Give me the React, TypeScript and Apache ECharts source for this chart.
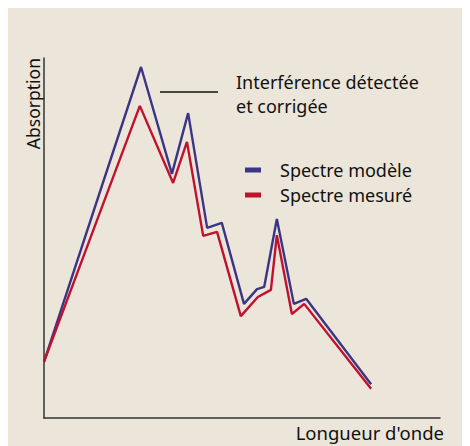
import React, { useEffect, useRef } from "react";
import * as echarts from "echarts";

const modelX = [0, 24.5, 32.3, 36.4, 41.2, 44.9, 50.5, 53.8, 55.6, 58.8, 63.1, 66.2, 82.6];
const modelY = [15.6, 97.5, 67.8, 84.7, 52.8, 54.2, 31.7, 35.8, 36.4, 55.3, 31.7, 33.1, 9.4];
const measX = [0, 24.2, 32.6, 36.1, 40.2, 43.7, 49.7, 54.0, 57.3, 58.8, 62.6, 65.7, 82.6];
const measY = [15.6, 86.7, 65.3, 76.7, 50.6, 51.7, 28.3, 33.6, 35.6, 50.8, 28.9, 31.7, 8.1];

const seriesNames = ["Spectre modèle", "Spectre mesuré"];
const xName = "Longueur d'onde";
const yName = "Absorption";
const annotation = "Interférence détectée\net corrigée";

const FONT = "Noto Sans";

export default function App() {
  const ref = useRef<HTMLDivElement>(null);
  useEffect(() => {
    if (!ref.current) return;
    const chart = echarts.init(ref.current, undefined, { renderer: "svg" });
    const zip = (xs: number[], ys: number[]) => xs.map((x, i) => [x, ys[i]]);
    chart.setOption({
      animation: false,
      backgroundColor: "#ebe5da",
      textStyle: { fontFamily: FONT },
      grid: { left: 36, right: 30, top: 50, bottom: 28 },
      xAxis: {
        type: "value",
        min: 0,
        max: 100,
        axisLine: { show: true, lineStyle: { color: "#333", width: 1.5 } },
        axisTick: { show: false },
        axisLabel: { show: false },
        splitLine: { show: false },
      },
      yAxis: {
        type: "value",
        min: 0,
        max: 100,
        axisLine: { show: true, lineStyle: { color: "#333", width: 1.5 } },
        axisTick: { show: false },
        axisLabel: { show: false },
        splitLine: { show: false },
      },
      legend: {
        orient: "vertical",
        left: 237,
        top: 153,
        padding: 0,
        itemWidth: 16,
        itemHeight: 5,
        itemGap: 7,
        icon: "rect",
        data: seriesNames,
        textStyle: {
          fontFamily: FONT,
          fontSize: 18,
          color: "#111",
          padding: [0, 0, 0, 14],
        },
      },
      series: [
        {
          name: seriesNames[0],
          type: "line",
          data: zip(modelX, modelY),
          symbol: "none",
          lineStyle: { color: "#3b3585", width: 2.4 },
          itemStyle: { color: "#3b3585" },
        },
        {
          name: seriesNames[1],
          type: "line",
          data: zip(measX, measY),
          symbol: "none",
          lineStyle: { color: "#c0122f", width: 2.4 },
          itemStyle: { color: "#c0122f" },
        },
      ],
      graphic: [
        {
          type: "line",
          shape: { x1: 152, y1: 84, x2: 210, y2: 84 },
          style: { stroke: "#111", lineWidth: 1.3 },
        },
        {
          type: "text",
          x: 228,
          y: 62,
          style: {
            text: annotation,
            font: `18px ${FONT}`,
            fill: "#111",
            lineHeight: 24,
            align: "left",
            verticalAlign: "top",
          },
        },
        {
          type: "text",
          x: 25,
          y: 50,
          rotation: Math.PI / 2,
          style: {
            text: yName,
            font: `17.5px ${FONT}`,
            fill: "#111",
            align: "right",
            verticalAlign: "middle",
          },
        },
        {
          type: "text",
          x: 436,
          y: 424,
          style: {
            text: xName,
            font: `18.5px ${FONT}`,
            fill: "#111",
            align: "right",
            verticalAlign: "middle",
          },
        },
      ],
    });
    return () => chart.dispose();
  }, []);
  return <div ref={ref} style={{ width: 462, height: 438 }} />;
}
